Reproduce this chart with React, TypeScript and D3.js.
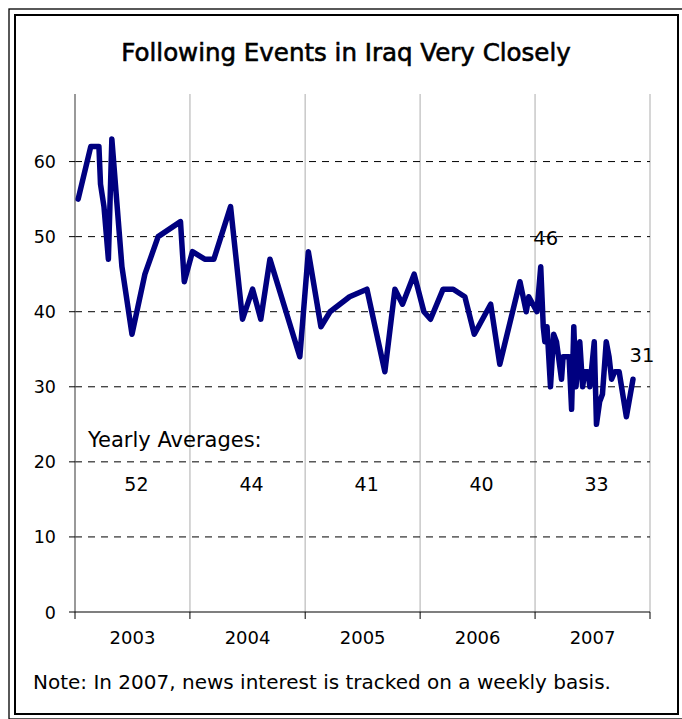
import React from "react";
import * as d3 from "d3";

// Share following news about Iraq "very closely" (%)
const dates: string[] = [
  "2003-01-11", "2003-02-20", "2003-03-18", "2003-03-23", "2003-04-03", "2003-04-17",
  "2003-04-28", "2003-05-30", "2003-07-01", "2003-08-11", "2003-09-22", "2003-12-02",
  "2003-12-14", "2004-01-09", "2004-02-17", "2004-03-17", "2004-05-09", "2004-06-16",
  "2004-07-18", "2004-08-13", "2004-09-11", "2004-12-15", "2005-01-11", "2005-02-20",
  "2005-03-21", "2005-05-22", "2005-07-16", "2005-09-11", "2005-10-13", "2005-11-06",
  "2005-12-13", "2006-01-13", "2006-02-03", "2006-03-15", "2006-04-16", "2006-05-23",
  "2006-06-22", "2006-08-13", "2006-09-11", "2006-11-14", "2006-12-04", "2006-12-12",
  "2007-01-07", "2007-01-19", "2007-01-27", "2007-02-01", "2007-02-08", "2007-02-19",
  "2007-03-01", "2007-03-10", "2007-03-26", "2007-03-31", "2007-04-11", "2007-04-19",
  "2007-04-27", "2007-05-04", "2007-05-11", "2007-05-23", "2007-06-01", "2007-06-08",
  "2007-06-18", "2007-06-24", "2007-07-08", "2007-07-15", "2007-07-25", "2007-08-03",
  "2007-08-15", "2007-08-24", "2007-09-01", "2007-09-11", "2007-09-25", "2007-10-18",
  "2007-11-08",
];
const values: number[] = [
  55, 62, 62, 57, 54, 47,
  63, 46, 37, 45, 50, 52,
  44, 48, 47, 47, 54, 39,
  43, 39, 47, 34, 48, 38,
  40, 42, 43, 32, 43, 41,
  45, 40, 39, 43, 43, 42,
  37, 41, 33, 44, 40, 42,
  40, 46, 38, 36, 38, 30,
  37, 36, 31, 34, 34, 34,
  27, 38, 30, 36, 30, 32,
  32, 30, 36, 25, 28, 29,
  36, 34, 31, 32, 32, 26,
  31,
];

const years: number[] = [2003, 2004, 2005, 2006, 2007];
const yearlyAverages: number[] = [52, 44, 41, 40, 33];
const yTicks: number[] = [0, 10, 20, 30, 40, 50, 60];

const title = "Following Events in Iraq Very Closely";
const averagesLabel = "Yearly Averages:";
const note = "Note: In 2007, news interest is tracked on a weekly basis.";

const W = 682;
const H = 719;
const FONT = "'DejaVu Sans', sans-serif";

export default function App() {
  const parse = d3.timeParse("%Y-%m-%d");
  const points = dates.map((d, i) => ({ date: parse(d) as Date, value: values[i] }));

  const x = d3
    .scaleTime()
    .domain([new Date(2003, 0, 1), new Date(2008, 0, 1)])
    .range([75, 650]);
  const y = d3.scaleLinear().domain([0, 69]).range([612, 94]);

  const line = d3
    .line<{ date: Date; value: number }>()
    .x((d) => x(d.date))
    .y((d) => y(d.value));

  const yearBounds = d3.range(years[0], years[years.length - 1] + 2).map((yr) => new Date(yr, 0, 1));
  const yearMid = (yr: number) => (x(new Date(yr, 0, 1)) + x(new Date(yr + 1, 0, 1))) / 2;

  // peak in the series and the final reading get value labels
  const peakIdx = d3.maxIndex(points, (p) => (p.date.getFullYear() >= 2006 ? p.value : -1));
  const peak = points[peakIdx];
  const last = points[points.length - 1];

  const [x0, x1] = x.range();
  const [yBottom, yTop] = y.range();

  return (
    <svg
      width={W}
      height={H}
      style={{ position: "absolute", left: 0, top: 0, display: "block", background: "#fff" }}
    >
      {/* double frame */}
      <rect x={9} y={9} width={676} height={710} fill="none" stroke="#000" strokeWidth={1.3} />
      <rect x={15} y={15} width={663} height={699} fill="none" stroke="#000" strokeWidth={2} />

      {/* medium-weight title: regular face with a thin outline */}
      <text
        x={346}
        y={61}
        textAnchor="middle"
        fontFamily={FONT}
        fontSize={24.5}
        fill="#000"
        stroke="#000"
        strokeWidth={0.6}
      >
        {title}
      </text>

      {/* vertical year gridlines */}
      {yearBounds.slice(1).map((d, i) => (
        <line key={`vg${i}`} x1={x(d)} x2={x(d)} y1={yTop} y2={yBottom} stroke="#c8c8c8" strokeWidth={1.5} />
      ))}

      {/* horizontal dashed gridlines */}
      {yTicks.filter((t) => t > 0).map((t) => (
        <line
          key={`hg${t}`}
          x1={x0}
          x2={x1}
          y1={y(t)}
          y2={y(t)}
          stroke="#000"
          strokeWidth={1}
          strokeDasharray="7,6"
        />
      ))}

      {/* y axis */}
      <line x1={x0} x2={x0} y1={yTop} y2={yBottom} stroke="#555" strokeWidth={1.2} />
      {yTicks.map((t) => (
        <g key={`yt${t}`}>
          <line x1={x0 - 6} x2={x0} y1={y(t)} y2={y(t)} stroke="#000" strokeWidth={1} />
          <text x={56} y={y(t) + 6.5} textAnchor="end" fontFamily={FONT} fontSize={17.5} fill="#000">
            {t}
          </text>
        </g>
      ))}

      {/* x axis */}
      <line x1={x0} x2={x1} y1={yBottom} y2={yBottom} stroke="#000" strokeWidth={1.2} />
      {yearBounds.map((d, i) => (
        <line key={`xt${i}`} x1={x(d)} x2={x(d)} y1={yBottom} y2={yBottom + 7} stroke="#000" strokeWidth={1} />
      ))}
      {years.map((yr) => (
        <text key={`yl${yr}`} x={yearMid(yr)} y={644} textAnchor="middle" fontFamily={FONT} fontSize={18} fill="#000">
          {yr}
        </text>
      ))}

      {/* yearly averages */}
      <text x={88} y={447} fontFamily={FONT} fontSize={21} fill="#000">
        {averagesLabel}
      </text>
      {years.map((yr, i) => (
        <text key={`avg${yr}`} x={yearMid(yr) + 4} y={491} textAnchor="middle" fontFamily={FONT} fontSize={19} fill="#000">
          {yearlyAverages[i]}
        </text>
      ))}

      {/* series */}
      <path
        d={line(points) ?? ""}
        fill="none"
        stroke="#000080"
        strokeWidth={5.5}
        strokeLinejoin="round"
        strokeLinecap="round"
      />

      <text x={x(peak.date) + 5} y={y(peak.value) - 22} textAnchor="middle" fontFamily={FONT} fontSize={19.5} fill="#000">
        {peak.value}
      </text>
      <text x={x(last.date) + 9} y={y(last.value) - 17} textAnchor="middle" fontFamily={FONT} fontSize={19.5} fill="#000">
        {last.value}
      </text>

      <text x={33} y={689} fontFamily={FONT} fontSize={20} fill="#000">
        {note}
      </text>
    </svg>
  );
}
